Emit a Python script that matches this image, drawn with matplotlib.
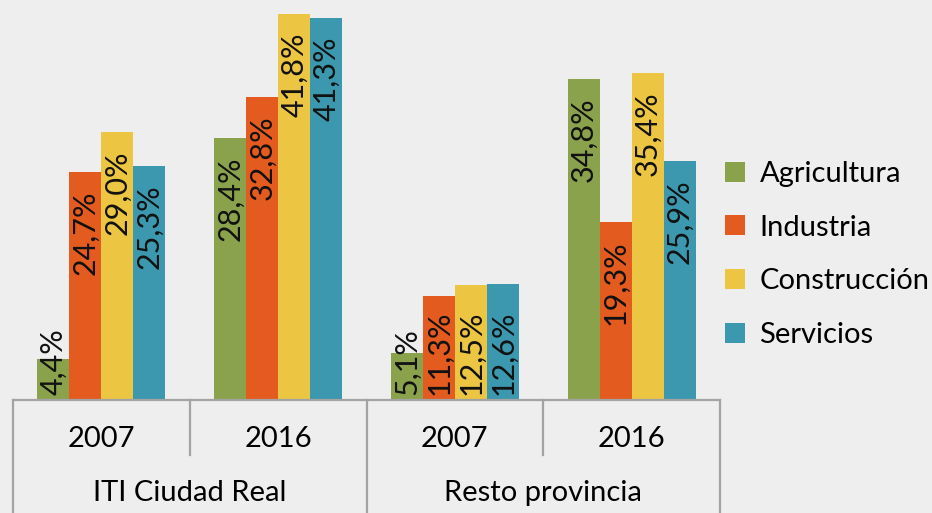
import numpy as np
import matplotlib.pyplot as plt
from matplotlib.patches import Patch
from matplotlib.transforms import blended_transform_factory

years = ["2007", "2016", "2007", "2016"]
zones = ["ITI Ciudad Real", "Resto provincia"]
sectors = ["Agricultura", "Industria", "Construcción", "Servicios"]
agricultura = [4.4, 28.4, 5.1, 34.8]
industria = [24.7, 32.8, 11.3, 19.3]
construccion = [29.0, 41.8, 12.5, 35.4]
servicios = [25.3, 41.3, 12.6, 25.9]
colors = ["#8ba24c", "#e35b1e", "#ecc543", "#3b98ae"]

BG = "#eeeeee"
LINE = "#a3a3a3"
plt.rcParams["font.family"] = ["Lato", "DejaVu Sans"]

fig = plt.figure(figsize=(9.32, 5.13), dpi=100, facecolor=BG)
ax = fig.add_axes([13 / 932, 113 / 513, 707 / 932, 400 / 513])
ax.set_facecolor(BG)

series = [agricultura, industria, construccion, servicios]
x = np.arange(len(years))
w = 0.181
for k, (vals, col) in enumerate(zip(series, colors)):
    pos = x + (k - 1.5) * w
    ax.bar(pos, vals, width=w, color=col, linewidth=0)
    for px, v in zip(pos, vals):
        txt = f"{v:.1f}%".replace(".", ",")
        if v < 14:
            # too short for the label: start it at the base
            ax.text(px, 0.5, txt, rotation=90, ha="center", va="bottom",
                    fontsize=22, color="#111111")
        else:
            ax.text(px, v - 2.0, txt, rotation=90, ha="center", va="top",
                    fontsize=22, color="#111111")

ax.set_xlim(-0.5, 3.5)
ax.set_ylim(0, 43.3)
for s in ["top", "right", "left"]:
    ax.spines[s].set_visible(False)
ax.spines["bottom"].set_color(LINE)
ax.spines["bottom"].set_linewidth(1.6)
ax.set_xticks([])
ax.set_yticks([])

# two-level category axis
tr = blended_transform_factory(ax.transData, ax.transAxes)
for xs in [-0.5, 1.5, 3.5]:
    ax.plot([xs, xs], [0, -0.29], color=LINE, lw=1.6, transform=tr, clip_on=False)
for xs in [0.5, 2.5]:
    ax.plot([xs, xs], [0, -0.1375], color=LINE, lw=1.6, transform=tr, clip_on=False)
for xi, yr in zip(x, years):
    ax.text(xi, -0.0975, yr, ha="center", va="center", fontsize=21, transform=tr)
for xi, zn in zip([0.5, 2.5], zones):
    ax.text(xi, -0.2325, zn, ha="center", va="center", fontsize=21, transform=tr)

handles = [Patch(facecolor=c, edgecolor="none") for c in colors]
fig.legend(handles, sectors, loc="center left", bbox_to_anchor=(725 / 932, 0.504),
           frameon=False, fontsize=21, handlelength=0.68, handleheight=0.68,
           handletextpad=0.5, labelspacing=0.95, borderpad=0, borderaxespad=0)

fig.savefig("out.png", dpi=100, facecolor=BG)
